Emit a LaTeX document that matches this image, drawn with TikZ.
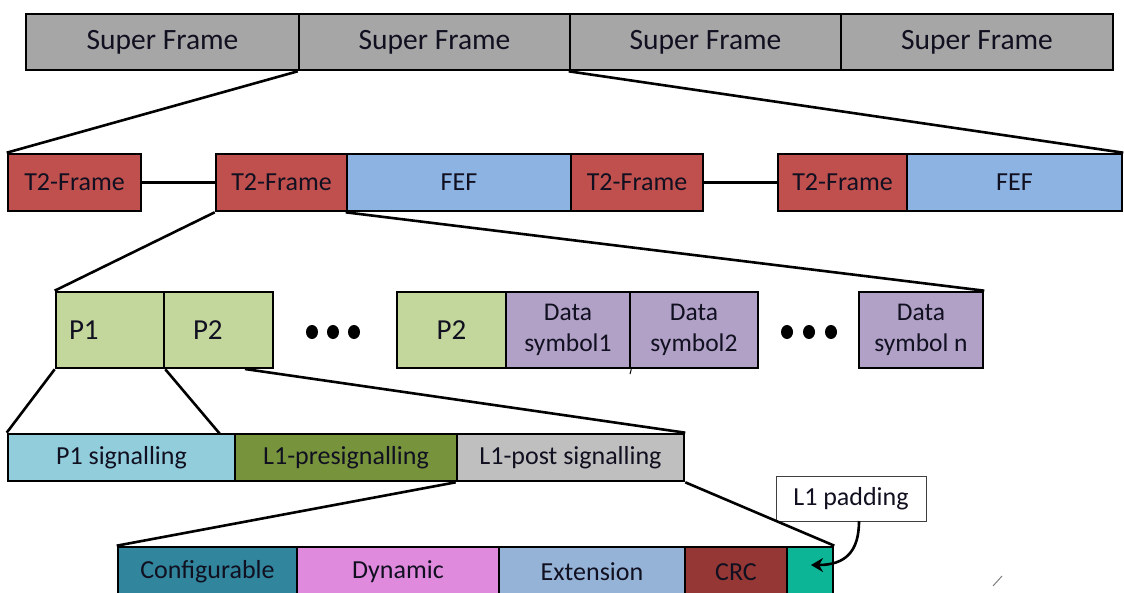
\documentclass[tikz,border=0pt]{standalone}
\usepackage{fontspec}
\setmainfont{Carlito}
\usetikzlibrary{arrows.meta,shapes.geometric}
\definecolor{sfgray}{HTML}{A6A6A6}
\definecolor{t2red}{HTML}{C0504D}
\definecolor{fefblue}{HTML}{8DB3E2}
\definecolor{pgreen}{HTML}{C3D69B}
\definecolor{dpurple}{HTML}{B2A1C7}
\definecolor{p1blue}{HTML}{92CDDC}
\definecolor{l1green}{HTML}{77933C}
\definecolor{l1gray}{HTML}{BFBFBF}
\definecolor{confteal}{HTML}{31859C}
\definecolor{dynpink}{HTML}{E08ADE}
\definecolor{extblue}{HTML}{95B3D7}
\definecolor{crcred}{HTML}{953735}
\definecolor{padteal}{HTML}{0CB596}
\definecolor{txt}{HTML}{101020}
\newcommand\blk[7]{\node[#1, minimum width={#4-#3}, minimum height={#6-#5}] (#2) at ({(#3+#4)/2},{(#5+#6)/2}) {#7};}
\begin{document}
\begin{tikzpicture}[x=1pt,y=-1pt,
  box/.style={draw=black, line width=2.6pt, rectangle, inner sep=0pt, text=txt, font=\fontsize{26}{30}\selectfont},
  sfbox/.style={box, fill=sfgray, font=\fontsize{29.5}{32}\selectfont},
  t2box/.style={box, fill=t2red},
  fefbox/.style={box, fill=fefblue},
  pbox/.style={box, fill=pgreen, font=\fontsize{29}{32}\selectfont},
  dbox/.style={box, fill=dpurple, align=center, font=\fontsize{25.5}{31}\selectfont},
  conn/.style={draw=black, line width=2.6pt},
  dot/.style={ellipse, fill=black, inner sep=0pt, minimum width=12pt, minimum height=14pt}
]
\clip (0,0) rectangle (1124,592);
\useasboundingbox (0,0) rectangle (1124,592);
\fill[white] (0,0) rectangle (1124,592);

% row 1
\blk{sfbox}{s1}{26}{299}{14}{70}{Super Frame}
\blk{sfbox}{s2}{299}{570}{14}{70}{Super Frame}
\blk{sfbox}{s3}{570}{841}{14}{70}{Super Frame}
\blk{sfbox}{s4}{841}{1113}{14}{70}{Super Frame}

% row 2
\blk{t2box}{t2a}{8}{141}{154}{211}{T2-Frame}
\blk{t2box}{t2b}{216}{347}{154}{211}{T2-Frame}
\blk{fefbox}{fefa}{347}{571}{154}{211}{FEF}
\blk{t2box}{t2c}{571}{703}{154}{211}{T2-Frame}
\blk{t2box}{t2d}{778}{907}{154}{211}{T2-Frame}
\blk{fefbox}{fefb}{907}{1122}{154}{211}{FEF}
\draw[conn] (t2a.east) -- (t2b.west);
\draw[conn] (t2c.east) -- (t2d.west);

% row 3
\blk{pbox}{p1}{56}{164}{292}{368}{\makebox[82pt][l]{P1}}
\blk{pbox}{p2}{164}{273}{292}{368}{\makebox[51pt][l]{P2}}
\blk{pbox}{p2b}{397}{506}{292}{368}{P2}
\blk{dbox}{ds1}{506}{630}{292}{368}{Data\\symbol1}
\blk{dbox}{ds2}{630}{758}{292}{368}{Data\\symbol2}
\blk{dbox}{dsn}{859}{983}{292}{368}{Data\\symbol n}
\node[dot] (da1) at (312,332) {};
\node[dot] (da2) at (333,332) {};
\node[dot] (da3) at (354,332) {};
\node[dot] (db1) at (787,332) {};
\node[dot] (db2) at (809,332) {};
\node[dot] (db3) at (831,332) {};
\coordinate (tick) at (630,374);
\draw[line width=1pt] (ds1.south east) -- (tick);

% row 4
\blk{box, fill=p1blue}{ps}{8}{235}{434}{481}{P1 signalling}
\blk{box, fill=l1green}{pre}{235}{457}{434}{481}{L1-presignalling}
\blk{box, fill=l1gray}{post}{457}{684}{434}{481}{L1-post signalling}

% row 5
\blk{box, fill=confteal}{conf}{118}{297}{547}{597}{Configurable}
\blk{box, fill=dynpink}{dyn}{297}{499}{547}{597}{Dynamic}
\blk{box, fill=extblue}{ext}{499}{685}{547}{597}{Extension}
\blk{box, fill=crcred}{crc}{685}{787}{547}{597}{CRC}
\blk{box, fill=padteal}{pad}{787}{833}{547}{597}{}

% label
\node[draw=black!75, line width=1pt, fill=white, minimum width=150pt, minimum height=45pt, inner sep=0pt, text=txt, font=\fontsize{26}{30}\selectfont] (lbl) at (851,498.5) {L1 padding};
\coordinate (lstart) at (859,521);
\coordinate (lend) at (811,565);
\draw[line width=2.6pt, -{Stealth[length=12pt,width=14pt]}] (lstart) .. controls (859,552) and (845,565) .. (lend);

% connectors
\coordinate (c1) at (220,434);
\coordinate (c2) at (245,369);
\draw[conn] (s2.south west) -- (t2a.north west);
\draw[conn] (s3.south west) -- (fefb.north east);
\draw[conn] (t2b.south west) -- (p1.north west);
\draw[conn] (fefa.south west) -- (dsn.north east);
\draw[conn] (p1.south west) -- (ps.north west);
\draw[conn] (p1.south east) -- (c1);
\draw[conn] (c2) -- (post.north east);
\draw[conn] (post.south west) -- (conf.north west);
\draw[conn] (post.south east) -- (pad.north east);

% stray mark
\coordinate (m1) at (993,586);
\coordinate (m2) at (1002,576);
\draw[black!50, line width=1pt] (m1) -- (m2);
\end{tikzpicture}
\end{document}
